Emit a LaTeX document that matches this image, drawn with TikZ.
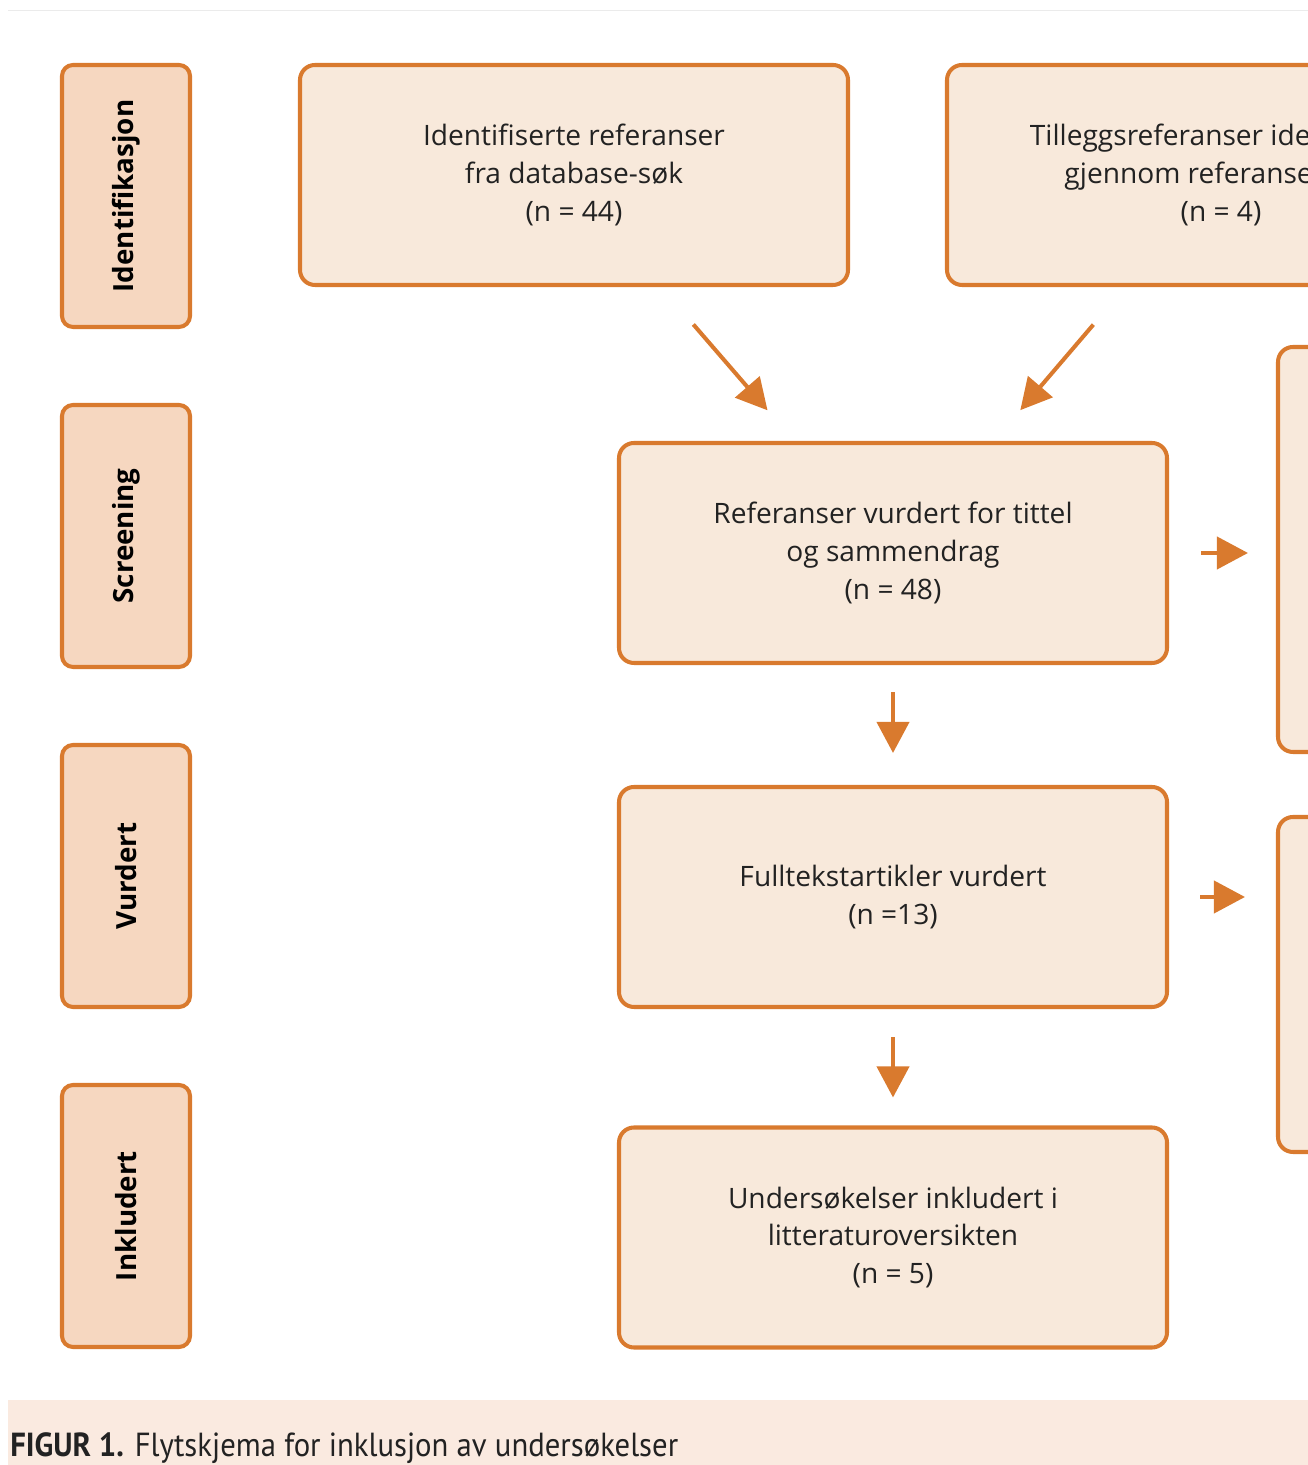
\documentclass[tikz,border=0pt]{standalone}
\usepackage{fontspec}
\setmainfont{Open Sans}
\newfontfamily\figurfont{PT Sans}
\usetikzlibrary{arrows.meta}
\definecolor{oransje}{HTML}{D97A2E}
\definecolor{boksfyll}{HTML}{F8E9DB}
\definecolor{fasefyll}{HTML}{F6D7C0}
\definecolor{figurfyll}{HTML}{FAEAE0}
\definecolor{tekstgraa}{HTML}{222222}
\tikzset{
	fase/.style={draw=oransje, fill=fasefyll, line width=2.3pt, rounded corners=0.22cm, minimum width=2.56cm, minimum height=5.24cm, inner sep=0pt},
	fasetekst/.style={rotate=90, font=\fontsize{15.8}{18}\selectfont\bfseries, text=black},
	boks/.style={draw=oransje, fill=boksfyll, line width=2.3pt, rounded corners=0.3cm, minimum width=10.96cm, minimum height=4.4cm, align=center, font=\fontsize{16}{21.4}\selectfont, text=tekstgraa},
	pil/.style={draw=oransje, line width=2.3pt, -{Triangle[length=0.62cm, width=0.64cm]}}
}
\begin{document}
\begin{tikzpicture}
	\useasboundingbox (0,0) rectangle (26.16,29.3);
	\clip (0,0) rectangle (26.16,29.3);
	% Ramme
		\draw[black!8, line width=0.5pt] (0.16,29.1) -- (26.16,29.1);
		\fill[figurfyll] (0.16,0) rectangle (26.16,1.3);
		\node[anchor=base west, inner sep=0pt, text=tekstgraa] (figur) at (0.2,0.16) {\scalebox{0.92}[1]{\figurfont\fontsize{19}{21}\selectfont\textbf{FIGUR 1.} Flytskjema for inklusjon av undersøkelser}};
	
	% Faser
		\node[fase] (identifikasjon) at (2.52,25.38) {};
		\node[fasetekst] at (identifikasjon) {Identifikasjon};
		\node[fase] (screening) at (2.52,18.58) {};
		\node[fasetekst] at (screening) {Screening};
		\node[fase] (vurdert) at (2.52,11.78) {};
		\node[fasetekst] at (vurdert) {Vurdert};
		\node[fase] (inkludert) at (2.52,4.98) {};
		\node[fasetekst] at (inkludert) {Inkludert};
	
	% Bokser
		\node[boks] (database) at (11.48,25.8) {Identifiserte referanser\\fra database-søk\\(n = 44)};
		\node[boks] (tillegg) at (24.42,25.8) {Tilleggsreferanser identifisert\\gjennom referanselister\\(n = 4)};
		\node[boks] (tittel) at (17.86,18.24) {Referanser vurdert for tittel\\og sammendrag\\(n = 48)};
		\node[boks] (fulltekst) at (17.86,11.36) {Fulltekstartikler vurdert\\(n =13)};
		\node[boks] (inkl) at (17.86,4.55) {Undersøkelser inkludert i\\litteraturoversikten\\(n = 5)};
		
		% Ekskluderte
		\node[boks, minimum height=8.1cm] (ekskl1) at (31.04,18.31) {};
		\node[boks, minimum height=6.7cm] (ekskl2) at (31.04,9.61) {};
	
	% Piler
		\draw[pil, shorten <=0.99cm, shorten >=0.81cm] ([xshift=1.74cm]database.south) -- ([xshift=-1.98cm]tittel.north);
		\draw[pil, shorten <=0.99cm, shorten >=0.81cm] ([xshift=-1.91cm]tillegg.south) -- ([xshift=2.02cm]tittel.north);
		\draw[pil, shorten <=0.54cm, shorten >=0.64cm] (tittel.south) -- (fulltekst.north);
		\draw[pil, shorten <=0.56cm, shorten >=0.56cm] (fulltekst.south) -- (inkl.north);
		\draw[pil, shorten <=0.64cm, shorten >=0.56cm] (tittel.east) -- (tittel.east -| ekskl1.west);
		\draw[pil, shorten <=0.62cm, shorten >=0.62cm] (fulltekst.east) -- (fulltekst.east -| ekskl2.west);
\end{tikzpicture}
\end{document}
